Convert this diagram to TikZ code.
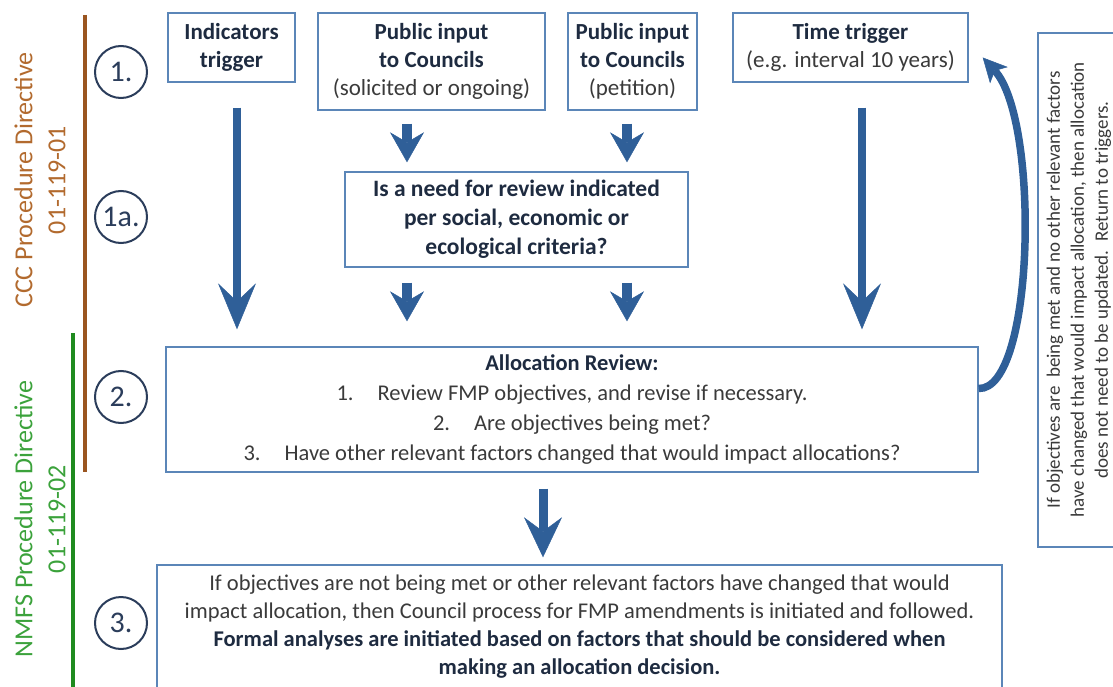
\documentclass[tikz,border=0pt]{standalone}
\usepackage{fontspec}
\setmainfont{Carlito}
\usetikzlibrary{arrows.meta}

\definecolor{boxline}{HTML}{5B86B8}
\definecolor{arrowblue}{HTML}{2F5F98}
\definecolor{inktext}{HTML}{1E2B40}
\definecolor{graytext}{HTML}{3A3A3A}
\definecolor{cccbrown}{HTML}{9A5520}
\definecolor{ccctext}{HTML}{B26A2E}
\definecolor{nmfsgreen}{HTML}{1F8B1F}
\definecolor{nmfstext}{HTML}{3BA23B}
\definecolor{stepink}{HTML}{2B3D5B}

\newcommand\headtxt[1]{\textbf{\color{inktext}#1}}

\begin{document}
\begin{tikzpicture}[x=1pt,y=-1pt,
  box/.style={draw=boxline, line width=1.4pt, inner sep=0pt, align=center,
    text=graytext, font=\fontsize{23}{28}\selectfont},
  stepmark/.style={circle, draw=stepink, line width=2pt, minimum size=52pt,
    inner sep=0pt, text=stepink, font=\fontsize{30}{32}\selectfont},
  sidelabel/.style={rotate=90, align=center, font=\fontsize{26}{33}\selectfont},
  bigarrow/.style={draw=arrowblue, line width=8pt,
    -{Stealth[length=46pt, width=38pt, inset=18pt, line width=0.5pt]}},
  shortarrow/.style={draw=arrowblue, line width=10pt,
    -{Stealth[length=30pt, width=34pt, inset=10pt, line width=0.5pt]}},
  midarrow/.style={draw=arrowblue, line width=9pt,
    -{Stealth[length=40pt, width=38pt, inset=14pt, line width=0.5pt]}},
  looparrow/.style={draw=arrowblue, line width=7.5pt,
    -{Stealth[length=24pt, width=24pt, inset=6pt, line width=0.5pt]}},
]
\useasboundingbox (0,0) rectangle (1113,687);
\clip (0,0) rectangle (1113,687);

% directive brackets on the left
\draw[cccbrown, line width=3.5pt] (85,15) -- (85,472);
\draw[nmfsgreen, line width=3.5pt] (73,333) -- (73,690);
\node[sidelabel, text=ccctext] (ccc) at (40,180) {CCC Procedure Directive\\01-119-01};
\node[sidelabel, text=nmfstext] (nmfs) at (40,519) {NMFS Procedure Directive\\01-119-02};

% step markers
\node[stepmark] (s1)  at (121,72)  {1.};
\node[stepmark] (s1a) at (121,217) {1a.};
\node[stepmark] (s2)  at (121,397) {2.};
\node[stepmark] (s3)  at (121,623) {3.};

% triggers
\node[box, minimum width=127pt, minimum height=69pt] (ind) at (231.5,47.5)
  {\headtxt{Indicators}\\\headtxt{trigger}};
\node[box, minimum width=227pt, minimum height=97pt] (pub1) at (431.5,61.5)
  {\headtxt{Public input}\\\headtxt{to Councils}\\(solicited or ongoing)};
\node[box, minimum width=129pt, minimum height=97pt] (pub2) at (632.5,61.5)
  {\headtxt{Public input}\\\headtxt{to Councils}\\(petition)};
\node[box, minimum width=235pt, minimum height=69pt] (time) at (850.5,47.5)
  {\headtxt{Time trigger}\\(e.g. interval 10 years)};

% screening question
\node[box, minimum width=343pt, minimum height=95pt,
  font=\fontsize{23.5}{29}\selectfont] (need) at (516.5,219.5)
  {\headtxt{Is a need for review indicated}\\\headtxt{per social, economic or}\\\headtxt{ecological criteria?}};

% review step
\node[box, minimum width=812pt, minimum height=125pt,
  font=\fontsize{22.5}{30}\selectfont] (alloc) at (572,409.5)
  {\headtxt{Allocation Review:}\\
   1.\hspace{24pt}Review FMP objectives, and revise if necessary.\\
   2.\hspace{24pt}Are objectives being met?\\
   3.\hspace{24pt}Have other relevant factors changed that would impact allocations?};

% amendment step
\node[box, minimum width=845pt, minimum height=123pt,
  font=\fontsize{22.5}{28}\selectfont] (amend) at (579.5,626.5)
  {If objectives are not being met or other relevant factors have changed that would\\
   impact allocation, then Council process for FMP amendments is initiated and followed.\\
   \headtxt{Formal analyses are initiated based on factors that should be considered when}\\
   \headtxt{making an allocation decision.}};

% return note
\node[box, rotate=90, minimum width=514pt, minimum height=82pt,
  font=\fontsize{19}{24}\selectfont] (note) at (1079,290)
  {If objectives are\ \ being met and no other relevant factors\\
   have changed that would impact allocation, then allocation\\
   does not need to be updated.\ \ Return to triggers.};

% connectors
\coordinate (a1) at ([xshift=5.5pt]ind.south);
\coordinate (a2) at ([xshift=-24.5pt]pub1.south);
\coordinate (a3) at ([xshift=-5.5pt]pub2.south);
\coordinate (a4) at ([xshift=11.5pt]time.south);
\coordinate (a5) at ([xshift=-29pt]alloc.south);
\coordinate (b2) at (a2 |- need.south);
\coordinate (b3) at (a3 |- need.south);

\draw[bigarrow, shorten <=25pt, shorten >=17pt] (a1) -- (a1 |- alloc.north);
\draw[bigarrow, shorten <=25pt, shorten >=17pt] (a4) -- (a4 |- alloc.north);
\draw[shortarrow, shorten <=13pt, shorten >=9pt] (a2) -- (a2 |- need.north);
\draw[shortarrow, shorten <=13pt, shorten >=9pt] (a3) -- (a3 |- need.north);
\draw[shortarrow, shorten <=15pt, shorten >=25pt] (b2) -- (b2 |- alloc.north);
\draw[shortarrow, shorten <=15pt, shorten >=25pt] (b3) -- (b3 |- alloc.north);
\draw[midarrow, shorten <=16pt, shorten >=7pt] (a5) -- (a5 |- amend.north);

\draw[looparrow] ([yshift=21pt]alloc.east)
  .. controls (1035,390) and (1040,120) .. ([xshift=14pt,yshift=-10pt]time.east);
\end{tikzpicture}
\end{document}
